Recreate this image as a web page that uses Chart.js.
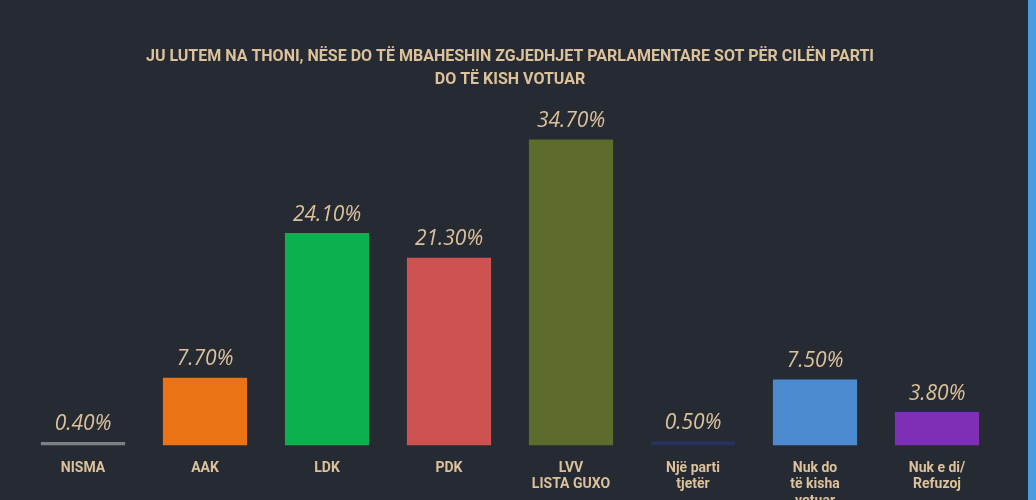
<!DOCTYPE html>
<html>
<head>
<meta charset="utf-8">
<script src="https://cdn.jsdelivr.net/npm/chart.js@4"></script>
<style>
  html, body { margin: 0; padding: 0; background: #262a33; overflow: hidden; }
  #wrap { position: relative; width: 1028px; height: 516px; border-right: 8px solid #4a9be0; }
</style>
</head>
<body>
<div id="wrap"><canvas id="myChart"></canvas></div>
<script>
const categories = ['NISMA', 'AAK', 'LDK', 'PDK', ['LVV', 'LISTA GUXO'], ['Një parti', 'tjetër'], ['Nuk do', 'të kisha', 'votuar'], ['Nuk e di/', 'Refuzoj']];
const values = [0.4, 7.7, 24.1, 21.3, 34.7, 0.5, 7.5, 3.8];
const barColors = ['#7d7f86', '#ec7216', '#0db04f', '#cf5252', '#5d6b2c', '#27325e', '#4d8bd0', '#7f2fb3'];
const tan = '#dcc29a';

const valueLabels = {
    id: 'valueLabels',
    afterDatasetsDraw(chart) {
        const c = chart.ctx;
        const meta = chart.getDatasetMeta(0);
        c.save();
        c.fillStyle = tan;
        c.font = 'italic 21px "Open Sans"';
        c.textAlign = 'center';
        c.textBaseline = 'bottom';
        meta.data.forEach((bar, i) => {
            c.fillText(values[i].toFixed(2) + '%', bar.x, bar.y - 8);
        });
        c.restore();
    }
};

new Chart(document.getElementById('myChart'), {
    type: 'bar',
    data: {
        labels: categories,
        datasets: [{
            data: values,
            backgroundColor: barColors,
            categoryPercentage: 0.69,
            barPercentage: 1,
            minBarLength: 3
        }]
    },
    options: {
        responsive: true,
        maintainAspectRatio: false,
        animation: false,
        layout: { padding: { left: 22, right: 30 } },
        plugins: {
            legend: { display: false },
            tooltip: { enabled: false },
            title: {
                display: true,
                text: ['JU LUTEM NA THONI, NËSE DO TË MBAHESHIN ZGJEDHJET PARLAMENTARE SOT PËR CILËN PARTI', 'DO TË KISH VOTUAR'],
                color: tan,
                font: { family: 'Roboto', size: 16, weight: 'bold', lineHeight: 1.4 },
                padding: { top: 46, bottom: 2 }
            }
        },
        scales: {
            x: {
                grid: { display: false },
                border: { display: false },
                ticks: {
                    color: tan,
                    font: { family: 'Roboto', size: 14, weight: 'bold', lineHeight: 1.2 },
                    padding: 6,
                    maxRotation: 0,
                    autoSkip: false
                }
            },
            y: {
                display: false,
                min: 0,
                max: 40
            }
        }
    },
    plugins: [valueLabels]
});
</script>
</body>
</html>
